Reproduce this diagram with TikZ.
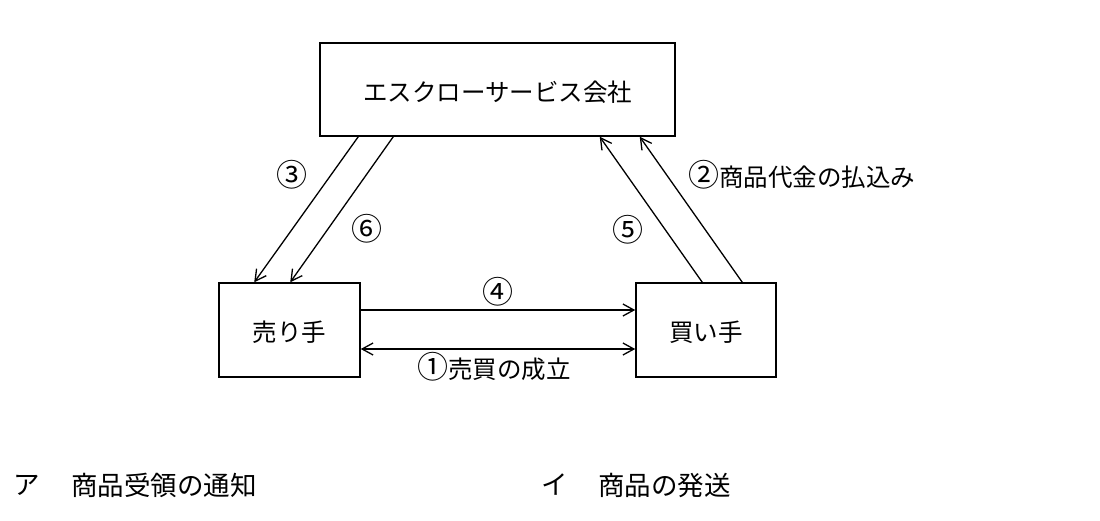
\documentclass[tikz,border=0pt]{standalone}
\usepackage{fontspec}
\newfontfamily\jp{Noto Sans CJK JP}
\newcommand\cnum[1]{{\fontsize{31}{31}\selectfont #1}}
\usetikzlibrary{arrows.meta}
\tikzset{
  boxnode/.style={draw, line width=1.5pt, inner sep=0pt, font=\jp\fontsize{24.5}{28}\selectfont},
  lbl/.style={inner sep=0pt, font=\jp\fontsize{24.5}{28}\selectfont},
  choice/.style={inner sep=0pt, font=\jp\fontsize{26.5}{30}\selectfont},
  arr/.style={line width=1.3pt, -{Straight Barb[length=11pt,width=12pt,line width=1.3pt]}},
  darr/.style={line width=1.3pt, {Straight Barb[length=11pt,width=12pt,line width=1.3pt]}-{Straight Barb[length=11pt,width=12pt,line width=1.3pt]}}
}
\begin{document}
\begin{tikzpicture}[x=1pt,y=-1pt]
\useasboundingbox (0,0) rectangle (1100,520);
\node[boxnode, minimum width=355pt, minimum height=93pt] (esc) at (497.5,89.5) {};
\node[lbl] (esct) at (497.5,92) {エスクローサービス会社};
\node[boxnode, minimum width=141pt, minimum height=94pt] (seller) at (289.5,330) {};
\node[lbl] (sellert) at (289.5,332) {売り手};
\node[boxnode, minimum width=140pt, minimum height=94pt] (buyer) at (706,330) {};
\node[lbl] (buyert) at (706,332) {買い手};
% arrows
\draw[arr] ([xshift=39pt]esc.south west) -- ([xshift=36pt]seller.north west);
\draw[arr] ([xshift=74pt]esc.south west) -- ([xshift=72pt]seller.north west);
\draw[arr] ([xshift=67pt]buyer.north west) -- ([xshift=-76pt]esc.south east);
\draw[arr] ([xshift=107pt]buyer.north west) -- ([xshift=-36pt]esc.south east);
\draw[arr] ([yshift=20pt]seller.east) -- ([yshift=20pt]buyer.west);
\draw[darr] ([yshift=-19pt]seller.east) -- ([yshift=-19pt]buyer.west);
% labels
\node[lbl] (l3) at (292,175) {\cnum{③}};
\node[lbl] (l6) at (367,229) {\cnum{⑥}};
\node[lbl] (l5) at (628,230) {\cnum{⑤}};
\node[lbl] (l4) at (498,292) {\cnum{④}};
\node[lbl, anchor=west] (l2) at (688,175) {\cnum{②}商品代金の払込み};
\node[lbl, anchor=west] (l1) at (417,367) {\cnum{①}売買の成立};
% choices
\node[choice] (a) at (27,485) {ア};
\node[choice, anchor=west] (at) at (71,485) {商品受領の通知};
\node[choice] (i) at (555,485) {イ};
\node[choice, anchor=west] (it) at (598,485) {商品の発送};
\end{tikzpicture}
\end{document}
